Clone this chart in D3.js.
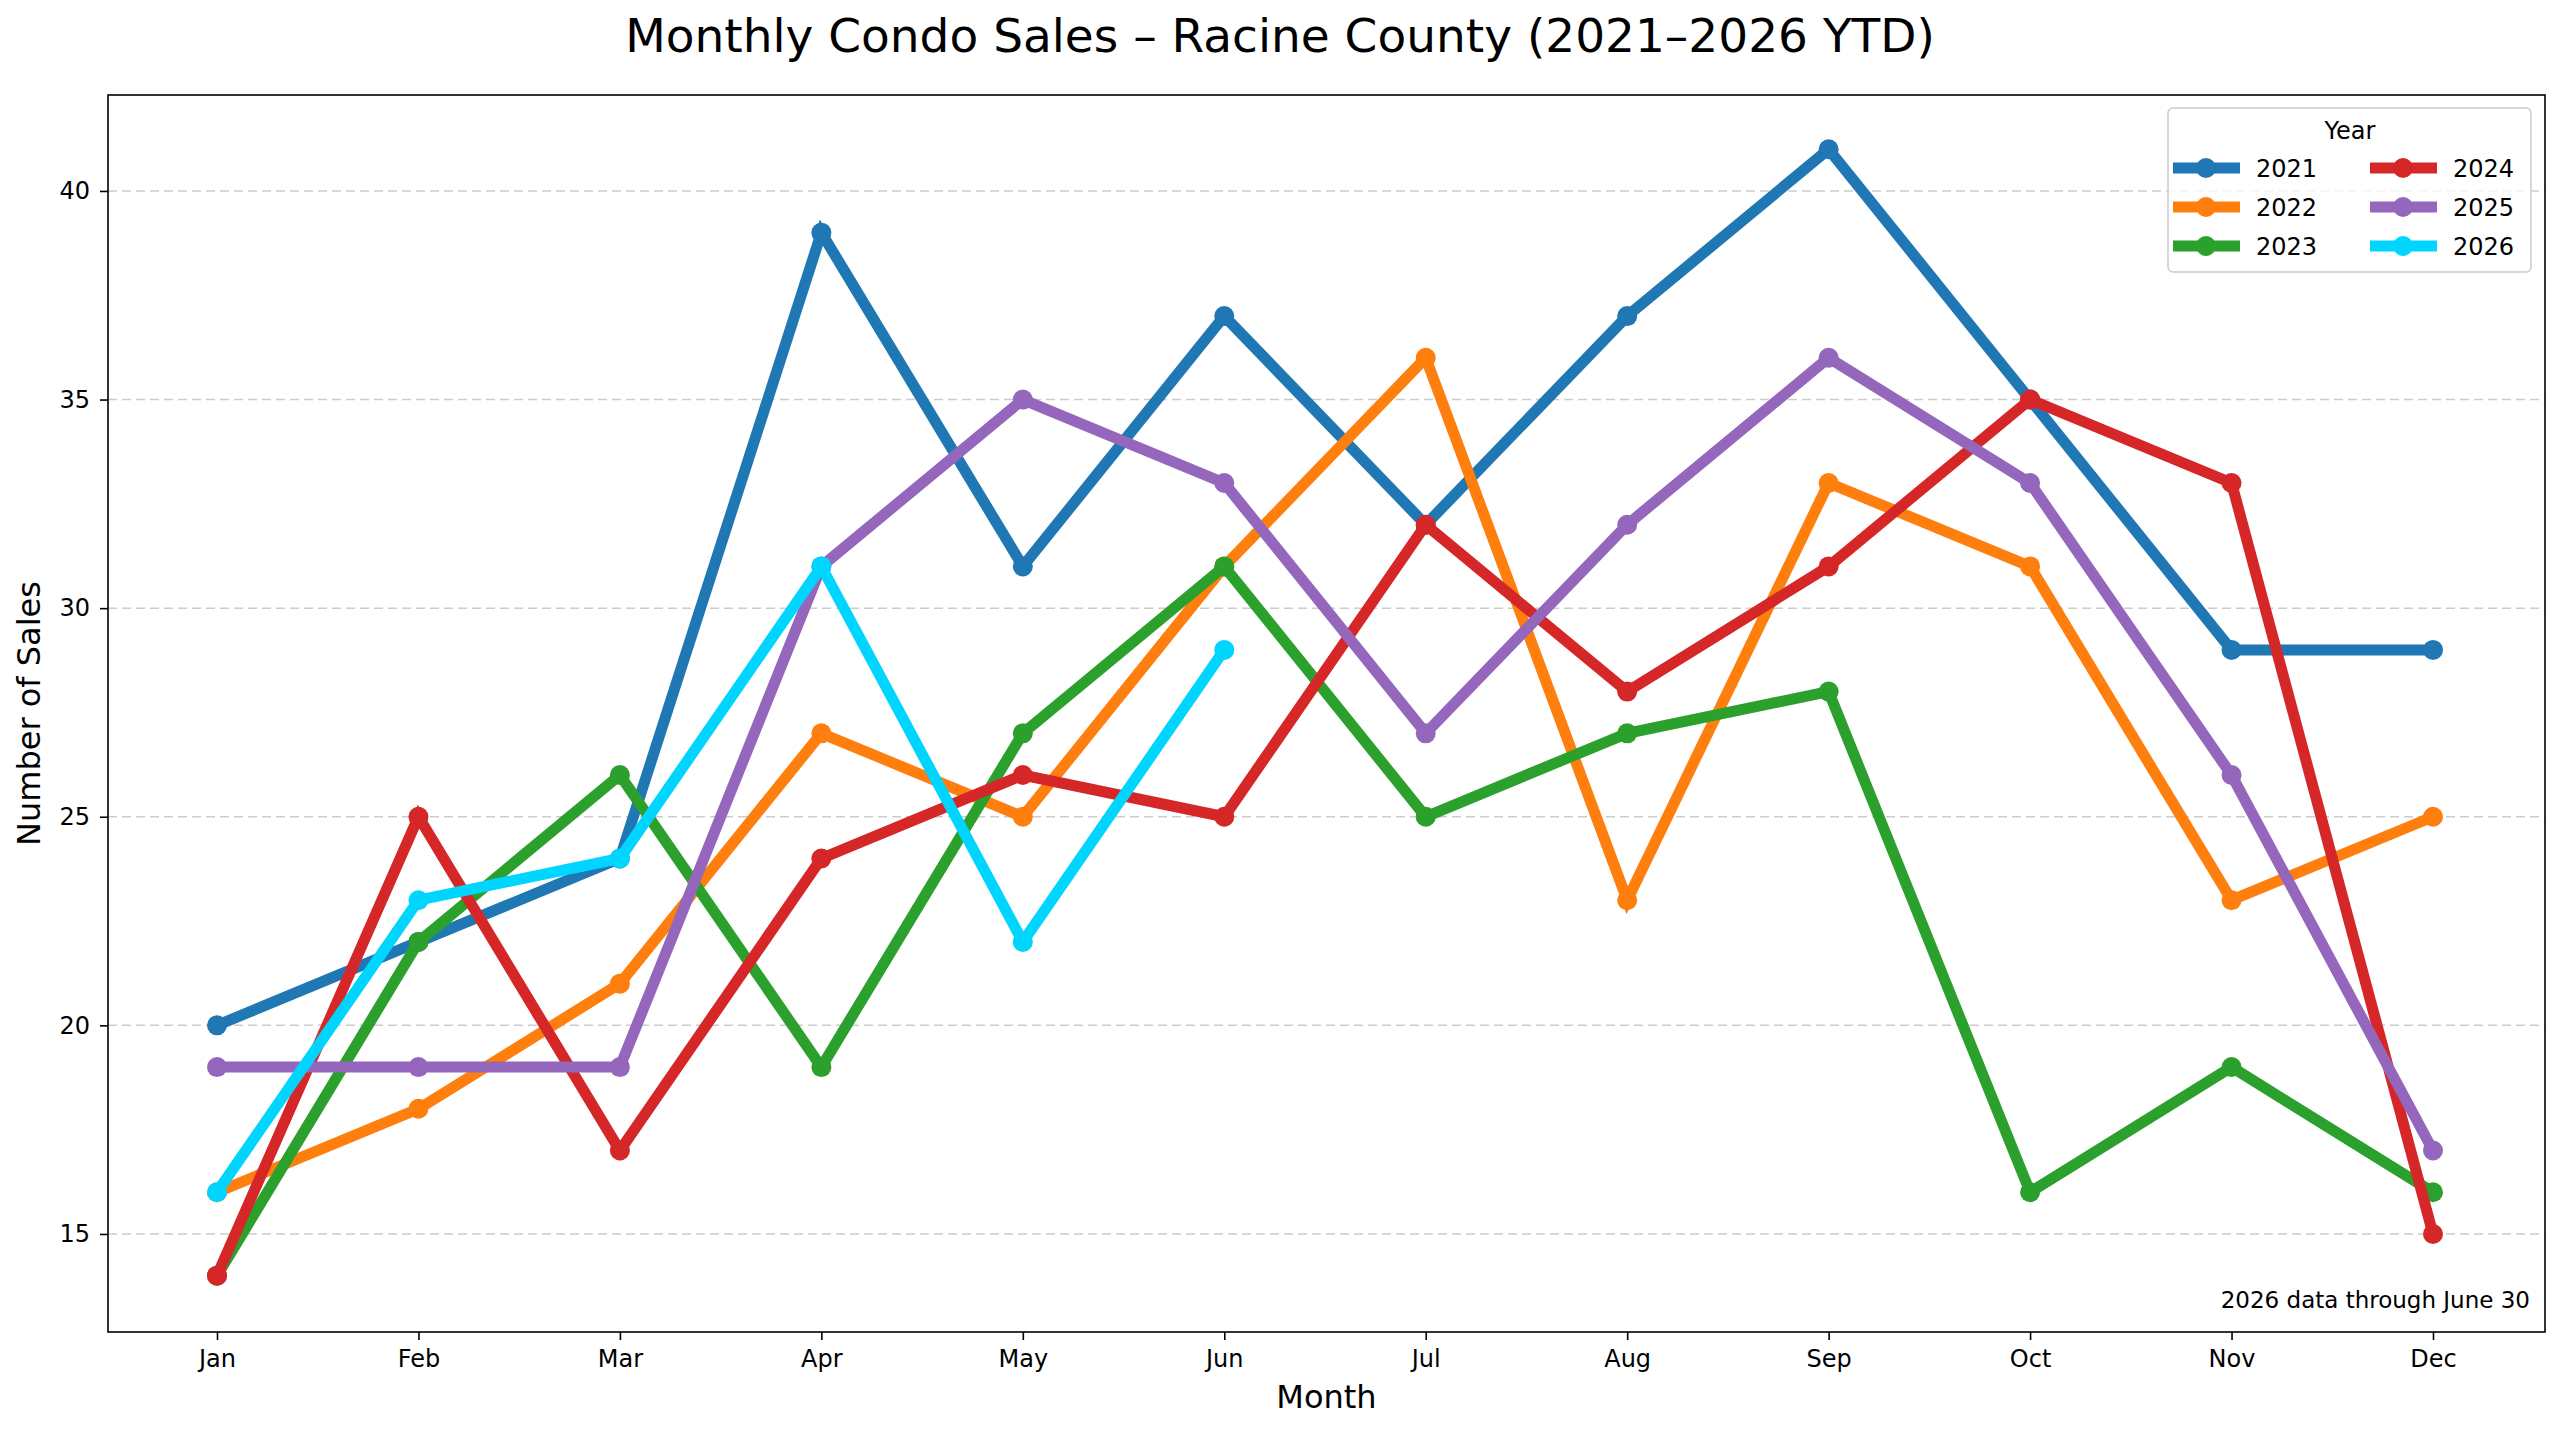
<!DOCTYPE html>
<html><head><meta charset="utf-8">
<script src="https://cdn.jsdelivr.net/npm/d3@7"></script>
<style>body{margin:0;background:#fff}text{font-family:"DejaVu Sans",sans-serif}</style>
</head><body>
<script>
var months = ["Jan","Feb","Mar","Apr","May","Jun","Jul","Aug","Sep","Oct","Nov","Dec"];
var years = ["2021","2022","2023","2024","2025","2026"];
var colors = ["#1f77b4","#ff7f0e","#2ca02c","#d62728","#9467bd","#00d5ff"];
var s2021 = [20,22,24,39,31,37,32,37,41,35,29,29];
var s2022 = [16,18,21,27,25,31,36,23,33,31,23,25];
var s2023 = [14,22,26,19,27,31,25,27,28,16,19,16];
var s2024 = [14,25,17,24,26,25,32,28,31,35,33,15];
var s2025 = [19,19,19,31,35,33,27,32,36,33,26,17];
var s2026 = [16,23,24,31,22,29];
var yTicks = [15,20,25,30,35,40];
var series = [s2021,s2022,s2023,s2024,s2025,s2026];

var W = 2560, H = 1431, L = 108, R = 2545, T = 95, B = 1332;
var svg = d3.select("body").append("svg").attr("width", W).attr("height", H);

var x = d3.scalePoint().domain(months).range([217, 2433]);
var y = d3.scaleLinear().domain([12.65, 42.3]).range([B, T]);

// grid
svg.append("g").selectAll("line").data(yTicks).enter().append("line")
  .attr("x1", L).attr("x2", R).attr("y1", d => y(d)).attr("y2", d => y(d))
  .attr("stroke", "#ccc").attr("stroke-width", 1.5).attr("stroke-dasharray", "9,5");

// lines
var line = d3.line().x((d, i) => x(months[i])).y(d => y(d));
series.forEach(function (s, k) {
  var g = svg.append("g");
  g.append("path").datum(s).attr("d", line).attr("fill", "none")
    .attr("stroke", colors[k]).attr("stroke-width", 11).attr("stroke-linejoin", "miter");
  g.selectAll("circle").data(s).enter().append("circle")
    .attr("cx", (d, i) => x(months[i])).attr("cy", d => y(d)).attr("r", 10).attr("fill", colors[k]);
});

// frame
svg.append("rect").attr("x", L).attr("y", T).attr("width", R - L).attr("height", B - T)
  .attr("fill", "none").attr("stroke", "#000").attr("stroke-width", 1.6);

// axes
var xa = svg.append("g").attr("transform", "translate(0," + B + ")")
  .call(d3.axisBottom(x).tickSize(8).tickPadding(10));
var ya = svg.append("g").attr("transform", "translate(" + L + ",0)")
  .call(d3.axisLeft(y).tickValues(yTicks).tickSize(8).tickPadding(10));
[xa, ya].forEach(function (a) {
  a.select(".domain").remove();
  a.selectAll("line").attr("stroke", "#000").attr("stroke-width", 1.6);
  a.selectAll("text").attr("font-size", 24).attr("fill", "#000").style("font-family", "DejaVu Sans");
});

svg.append("text").attr("x", W / 2).attr("y", 52).attr("text-anchor", "middle")
  .attr("font-size", 47).text("Monthly Condo Sales – Racine County (2021–2026 YTD)");
svg.append("text").attr("x", (L + R) / 2).attr("y", 1408).attr("text-anchor", "middle")
  .attr("font-size", 32).text("Month");
svg.append("text").attr("transform", "translate(40," + (T + B) / 2 + ") rotate(-90)")
  .attr("text-anchor", "middle").attr("font-size", 32).text("Number of Sales");
svg.append("text").attr("x", 2530).attr("y", 1308).attr("text-anchor", "end")
  .attr("font-size", 23).text("2026 data through June 30");

// legend
var lg = svg.append("g");
lg.append("rect").attr("x", 2168).attr("y", 108).attr("width", 363).attr("height", 164).attr("rx", 5)
  .attr("fill", "#fff").attr("fill-opacity", 0.8).attr("stroke", "#ccc").attr("stroke-width", 1.5);
lg.append("text").attr("x", 2350).attr("y", 139).attr("text-anchor", "middle").attr("font-size", 24).text("Year");
years.forEach(function (yr, k) {
  var cx = 2173 + Math.floor(k / 3) * 197, cy = 168 + (k % 3) * 39;
  lg.append("line").attr("x1", cx).attr("x2", cx + 67).attr("y1", cy).attr("y2", cy)
    .attr("stroke", colors[k]).attr("stroke-width", 11);
  lg.append("circle").attr("cx", cx + 33).attr("cy", cy).attr("r", 10).attr("fill", colors[k]);
  lg.append("text").attr("x", cx + 83).attr("y", cy + 9).attr("font-size", 24).text(yr);
});
</script>
</body></html>
